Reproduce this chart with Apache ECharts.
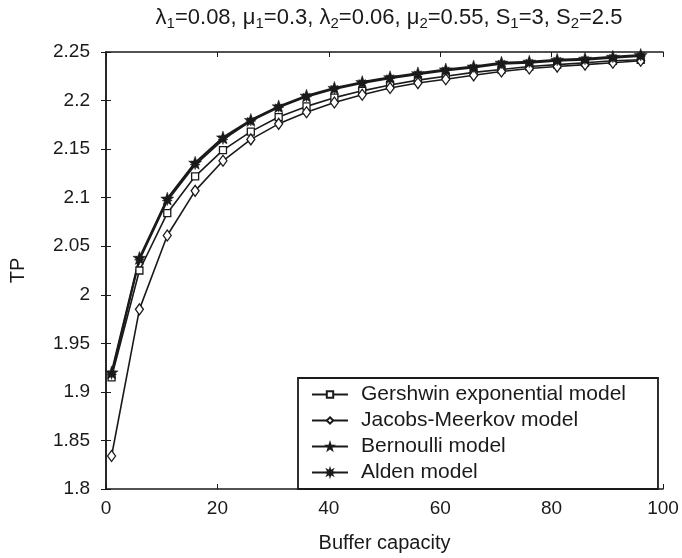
<!DOCTYPE html>
<html>
<head>
<meta charset="utf-8">
<script src="https://cdn.jsdelivr.net/npm/echarts@6/dist/echarts.min.js"></script>
<style>
  html, body { margin: 0; padding: 0; background: #fff; }
  #chart { width: 682px; height: 558px; }
</style>
</head>
<body>
<div id="chart"></div>
<script>
  // buffer capacities where the models were evaluated
  const bufferSizes = [1, 6, 11, 16, 21, 26, 31, 36, 41, 46, 51, 56, 61, 66, 71, 76, 81, 86, 91, 96];

  const gershwin = [1.915, 2.025, 2.084, 2.122, 2.149, 2.168, 2.183, 2.194, 2.203, 2.210, 2.216, 2.221, 2.225, 2.229, 2.232, 2.235, 2.237, 2.239, 2.241, 2.242];
  const jacobsMeerkov = [1.834, 1.985, 2.061, 2.107, 2.138, 2.160, 2.176, 2.188, 2.198, 2.206, 2.213, 2.218, 2.222, 2.226, 2.230, 2.233, 2.235, 2.237, 2.239, 2.241];
  const bernoulli = [1.920, 2.038, 2.099, 2.136, 2.162, 2.180, 2.194, 2.205, 2.213, 2.219, 2.224, 2.228, 2.232, 2.235, 2.239, 2.240, 2.242, 2.243, 2.245, 2.247];
  const alden = [1.918, 2.036, 2.097, 2.134, 2.160, 2.179, 2.193, 2.204, 2.212, 2.218, 2.223, 2.227, 2.231, 2.234, 2.238, 2.239, 2.241, 2.242, 2.244, 2.246];

  const seriesNames = ['Gershwin exponential model', 'Jacobs-Meerkov model', 'Bernoulli model', 'Alden model'];

  const STAR5 = 'path://M10 0 L12.35 6.76 L19.51 6.91 L13.80 11.24 L15.88 18.09 L10 14 L4.12 18.09 L6.20 11.24 L0.49 6.91 L7.65 6.76 Z';
  const STAR8 = 'path://M10 0 L11.72 5.84 L17.07 2.93 L14.16 8.28 L20 10 L14.16 11.72 L17.07 17.07 L11.72 14.16 L10 20 L8.28 14.16 L2.93 17.07 L5.84 11.72 L0 10 L5.84 8.28 L2.93 2.93 L8.28 5.84 Z';

  const INK = '#1a1a1a';
  const FONT = 'Liberation Sans, Arial, sans-serif';

  function pairs(values) {
    return bufferSizes.map((x, i) => [x, values[i]]);
  }

  function lineSeries(name, values, symbol, size, filled, width) {
    return {
      name: name,
      type: 'line',
      data: pairs(values),
      symbol: symbol,
      symbolSize: size,
      showAllSymbol: true,
      lineStyle: { color: INK, width: width },
      itemStyle: { color: filled ? INK : '#fff', borderColor: INK, borderWidth: filled ? 0.5 : 1.3 },
      emphasis: { disabled: true },
      animation: false
    };
  }

  const chart = echarts.init(document.getElementById('chart'), null, { renderer: 'canvas' });

  chart.setOption({
    backgroundColor: '#fff',
    animation: false,
    title: {
      text: '{n|λ}{s|1}{n|=0.08, μ}{s|1}{n|=0.3, λ}{s|2}{n|=0.06, μ}{s|2}{n|=0.55, S}{s|1}{n|=3, S}{s|2}{n|=2.5}',
      left: 384,
      top: 0,
      textAlign: 'center',
      textStyle: {
        fontWeight: 'normal',
        rich: {
          n: { fontFamily: FONT, fontSize: 22, fontWeight: 'normal', color: INK, lineHeight: 26 },
          s: { fontFamily: FONT, fontSize: 15, fontWeight: 'normal', color: INK, lineHeight: 15, verticalAlign: 'bottom' }
        }
      }
    },
    legend: {
      orient: 'vertical',
      left: 298,
      top: 378,
      data: seriesNames,
      itemWidth: 36,
      itemHeight: 8,
      itemGap: 5,
      padding: [6, 32, 6, 13],
      borderColor: INK,
      borderWidth: 1.8,
      backgroundColor: '#fff',
      selectedMode: false,
      textStyle: { fontFamily: FONT, fontSize: 21, color: INK, padding: [0, 0, 0, 8] }
    },
    grid: { left: 105, right: 19, top: 52, bottom: 66, containLabel: false },
    xAxis: [
      {
        type: 'value',
        min: 0,
        max: 100,
        interval: 20,
        name: 'Buffer capacity',
        nameLocation: 'middle',
        nameGap: 44,
        nameTextStyle: { fontFamily: FONT, fontSize: 20, color: INK },
        axisLine: { lineStyle: { color: INK, width: 1.5 } },
        axisTick: { inside: true, length: 5, lineStyle: { color: INK } },
        axisLabel: { fontFamily: FONT, fontSize: 19, color: INK, margin: 10 },
        splitLine: { show: false }
      },
      {
        type: 'value',
        position: 'top',
        min: 0,
        max: 100,
        interval: 20,
        axisLine: { lineStyle: { color: INK, width: 1.5 } },
        axisTick: { inside: true, length: 5, lineStyle: { color: INK } },
        axisLabel: { show: false },
        splitLine: { show: false }
      }
    ],
    yAxis: [
      {
        type: 'value',
        min: 1.8,
        max: 2.25,
        interval: 0.05,
        name: 'TP',
        nameLocation: 'middle',
        nameGap: 78,
        nameTextStyle: { fontFamily: FONT, fontSize: 20, color: INK },
        axisLine: { show: true, lineStyle: { color: INK, width: 1.5 } },
        axisTick: { show: true, inside: true, length: 5, lineStyle: { color: INK } },
        axisLabel: { fontFamily: FONT, fontSize: 19, color: INK, margin: 16 },
        splitLine: { show: false }
      },
      {
        type: 'value',
        position: 'right',
        min: 1.8,
        max: 2.25,
        interval: 0.05,
        axisLine: { show: true, lineStyle: { color: INK, width: 1.5 } },
        axisTick: { show: true, inside: true, length: 5, lineStyle: { color: INK } },
        axisLabel: { show: false },
        splitLine: { show: false }
      }
    ],
    series: [
      lineSeries(seriesNames[0], gershwin, 'rect', 7, false, 1.6),
      lineSeries(seriesNames[1], jacobsMeerkov, 'diamond', [8, 11], false, 1.6),
      lineSeries(seriesNames[2], bernoulli, STAR5, 13, true, 2),
      lineSeries(seriesNames[3], alden, STAR8, 10, true, 2)
    ]
  });
</script>
</body>
</html>
